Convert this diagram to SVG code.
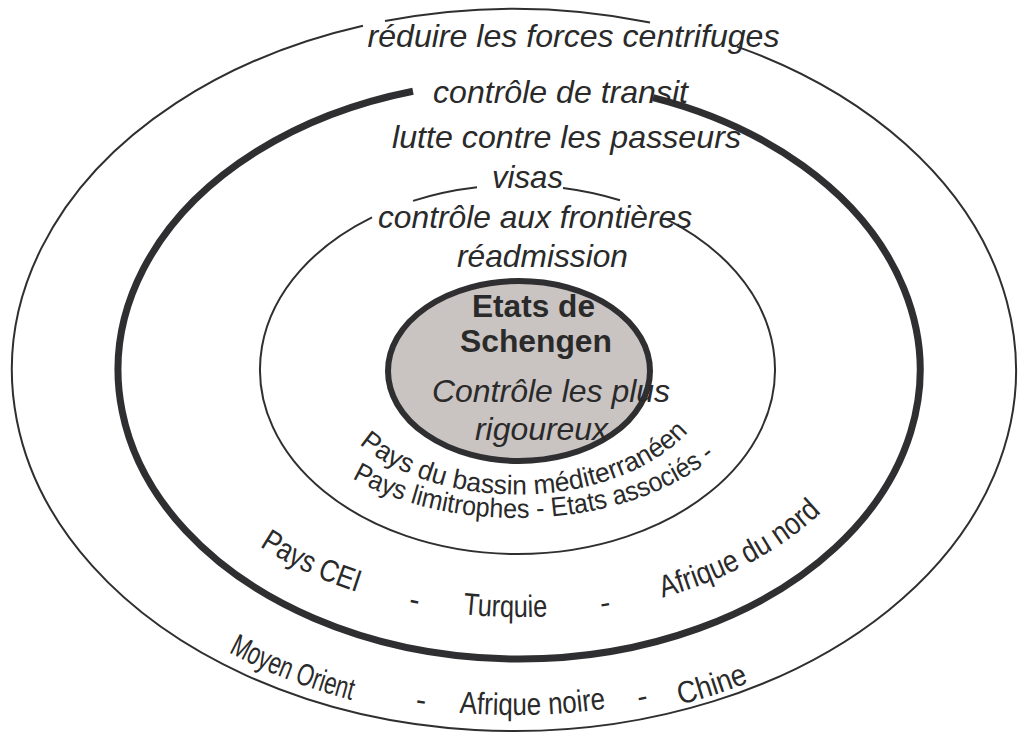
<svg xmlns="http://www.w3.org/2000/svg" width="1018" height="734" viewBox="0 0 1018 734">
<style>
.ring{fill:none;stroke:#2f2f31}
.thin{stroke-width:2}
.thick{stroke-width:7}
.core{fill:#c9c3c1;stroke:#2f2f31;stroke-width:6}
.it{font-family:"Liberation Sans",Arial,sans-serif;font-style:italic;font-size:32px;fill:#2a2a2a;text-anchor:middle}
.bd{font-family:"Liberation Sans",Arial,sans-serif;font-weight:bold;font-size:31px;fill:#2a2a2a;text-anchor:middle}
.cv{font-family:"Liberation Sans Narrow","Liberation Sans",Arial,sans-serif;fill:#2a2a2a}
.in{font-size:27px}
.mid{font-size:31px}
.out{font-size:31px}
</style>
<defs>
<path id="pA1" d="M 346.9 432 A 197 125 0 0 0 698.8 418.3"/>
<path id="pA2" d="M 321.8 457.5 A 243 148.5 0 0 0 740.1 429.1"/>
<path id="pB1" d="M 193.2 487.1 A 370 247 0 0 0 444 611.9"/>
<path id="pB2" d="M 352.2 593.5 A 370 247 0 0 0 475.2 618.3"/>
<path id="pB3" d="M 409.6 606 A 370 247 0 0 0 601 610.9"/>
<path id="pB4" d="M 543.5 619.5 A 370 247 0 0 0 668.3 599"/>
<path id="pB5" d="M 560.9 615.4 A 370 247 0 0 0 878.8 427.7"/>
<path id="pC1" d="M 125.2 576.3 A 480 345 0 0 0 478.3 719.9"/>
<path id="pC2" d="M 338.8 693.2 A 480 345 0 0 0 502.3 716.9"/>
<path id="pC3" d="M 368.1 698.7 A 480 345 0 0 0 696.2 689.2"/>
<path id="pC4" d="M 562.8 717.3 A 480 345 0 0 0 723.4 685.1"/>
<path id="pC5" d="M 598.1 720.2 A 480 345 0 0 0 824 645.8"/>
</defs>

<g id="outer-ring">
<path class="ring thin" d="M 385 21.1 A 502 361 0 0 1 650 22.5"/>
<path class="ring thin" d="M 737 46.6 A 502 361 0 1 1 363 25.7"/>
</g>
<g id="transit-ring">
<path class="ring thick" d="M 653 97.6 A 401 289 0 1 1 413 91.3"/>
</g>
<g id="border-ring">
<path class="ring thin" d="M 665 218.3 A 257.5 184.5 0 1 1 372 217.3"/>
<path class="ring thin" d="M 413 200.9 A 257.5 184.5 0 0 1 477 187.3"/>
<path class="ring thin" d="M 563 187.9 A 257.5 184.5 0 0 1 620 200.2"/>
</g>
<g id="schengen-core">
<ellipse class="core" cx="519" cy="371" rx="131" ry="90"/>
</g>
<g id="connectors"></g>

<g id="outer-labels">
<text class="it" x="573.5" y="47" textLength="412" lengthAdjust="spacingAndGlyphs">réduire les forces centrifuges</text>
<text class="cv out"><textPath href="#pC1" startOffset="50%" text-anchor="middle" textLength="132" lengthAdjust="spacingAndGlyphs">Moyen Orient</textPath></text>
<text class="cv out"><textPath href="#pC2" startOffset="50%" text-anchor="middle">-</textPath></text>
<text class="cv out"><textPath href="#pC3" startOffset="50%" text-anchor="middle" textLength="147" lengthAdjust="spacingAndGlyphs">Afrique noire</textPath></text>
<text class="cv out"><textPath href="#pC4" startOffset="50%" text-anchor="middle">-</textPath></text>
<text class="cv out"><textPath href="#pC5" startOffset="50%" text-anchor="middle" textLength="72" lengthAdjust="spacingAndGlyphs">Chine</textPath></text>
</g>
<g id="transit-labels">
<text class="it" x="560.5" y="103" textLength="255" lengthAdjust="spacingAndGlyphs">contrôle de transit</text>
<text class="it" x="566.5" y="148" textLength="349" lengthAdjust="spacingAndGlyphs">lutte contre les passeurs</text>
<text class="cv mid"><textPath href="#pB1" startOffset="50%" text-anchor="middle" textLength="108" lengthAdjust="spacingAndGlyphs">Pays CEI</textPath></text>
<text class="cv mid"><textPath href="#pB2" startOffset="50%" text-anchor="middle">-</textPath></text>
<text class="cv mid"><textPath href="#pB3" startOffset="50%" text-anchor="middle" textLength="85" lengthAdjust="spacingAndGlyphs">Turquie</textPath></text>
<text class="cv mid"><textPath href="#pB4" startOffset="50%" text-anchor="middle">-</textPath></text>
<text class="cv mid"><textPath href="#pB5" startOffset="50%" text-anchor="middle" textLength="182" lengthAdjust="spacingAndGlyphs">Afrique du nord</textPath></text>
</g>
<g id="border-labels">
<text class="it" x="527.5" y="188" textLength="71" lengthAdjust="spacingAndGlyphs">visas</text>
<text class="it" x="535" y="228" textLength="314" lengthAdjust="spacingAndGlyphs">contrôle aux frontières</text>
<text class="it" x="542.5" y="267" textLength="171" lengthAdjust="spacingAndGlyphs">réadmission</text>
<text class="cv in"><textPath href="#pA1" startOffset="50%" text-anchor="middle" textLength="356" lengthAdjust="spacingAndGlyphs">Pays du bassin méditerranéen</textPath></text>
<text class="cv in"><textPath href="#pA2" startOffset="50%" text-anchor="middle" textLength="383" lengthAdjust="spacingAndGlyphs">Pays limitrophes - Etats associés -</textPath></text>
</g>
<g id="core-labels">
<text class="bd" x="533.5" y="317" textLength="123" lengthAdjust="spacingAndGlyphs">Etats de</text>
<text class="bd" x="536" y="352" textLength="152" lengthAdjust="spacingAndGlyphs">Schengen</text>
<text class="it" x="551" y="402" textLength="238" lengthAdjust="spacingAndGlyphs">Contrôle les plus</text>
<text class="it" x="541.5" y="440" textLength="133" lengthAdjust="spacingAndGlyphs">rigoureux</text>
</g>
</svg>
